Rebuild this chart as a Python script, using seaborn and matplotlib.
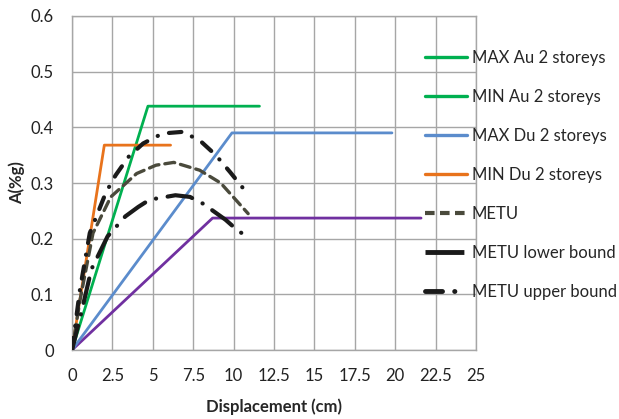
import matplotlib
matplotlib.use("Agg")
import matplotlib.pyplot as plt
import seaborn as sns
import numpy as np
import pandas as pd
from matplotlib.lines import Line2D

# ---- data ----
max_au_x = [0, 4.7, 11.6]
max_au_y = [0, 0.438, 0.438]
min_au_x = [0, 8.7, 21.6]
min_au_y = [0, 0.237, 0.237]
max_du_x = [0, 9.9, 19.8]
max_du_y = [0, 0.39, 0.39]
min_du_x = [0, 2.0, 6.1]
min_du_y = [0, 0.368, 0.368]
metu_x = [0, 0.5, 1.3, 2.4, 4.0, 5.2, 6.3, 7.9, 9.2, 10.9]
metu_y = [0, 0.09, 0.21, 0.275, 0.317, 0.332, 0.337, 0.323, 0.30, 0.245]
low_x = [0, 0.6, 1.2, 2.2, 3.3, 4.1, 4.8, 6.4, 7.3, 8.1, 9.5, 10.2, 11.0]
low_y = [0, 0.07, 0.145, 0.204, 0.24, 0.257, 0.27, 0.278, 0.275, 0.263, 0.234, 0.216, 0.2]
up_x = [0, 0.5, 1.1, 2.1, 2.7, 3.5, 4.4, 5.6, 6.9, 8.0, 8.9, 9.8, 10.8]
up_y = [0, 0.11, 0.21, 0.283, 0.314, 0.347, 0.371, 0.389, 0.392, 0.374, 0.35, 0.319, 0.283]

labels = ["MAX Au 2 storeys", "MIN Au 2 storeys", "MAX Du 2 storeys",
          "MIN Du 2 storeys", "METU", "METU lower bound", "METU upper bound"]
xticks = [0, 2.5, 5, 7.5, 10, 12.5, 15, 17.5, 20, 22.5, 25]
xtick_labels = ["0", "2.5", "5", "7.5", "10", "12.5", "15", "17.5", "20", "22.5", "25"]
yticks = [0, 0.1, 0.2, 0.3, 0.4, 0.5, 0.6]
ytick_labels = ["0", "0.1", "0.2", "0.3", "0.4", "0.5", "0.6"]

sns.set_style("white")
plt.rcParams['font.family'] = ['Lato', 'DejaVu Sans']

fig = plt.figure(figsize=(6.19, 4.19), dpi=100)
ax = fig.add_axes([72/619, 1-350/419, (476-72)/619, (350-16)/419])

green = "#00b050"
blue = "#5b8ccc"
orange = "#e8731c"
purple = "#7030a0"
olive = "#4a4a3c"
black = "#1a1a1a"

def draw(x, y, color, lw, dashes=None, z=3):
    df = pd.DataFrame({"x": x, "y": y})
    sns.lineplot(data=df, x="x", y="y", ax=ax, color=color, linewidth=lw,
                 sort=False, estimator=None, zorder=z)
    ln = ax.lines[-1]
    if dashes is not None:
        ln.set_linestyle((0, dashes))
        ln.set_dash_capstyle("round")
    return ln

draw(max_au_x, max_au_y, green, 2.0)
draw(min_au_x, min_au_y, purple, 2.0)
draw(max_du_x, max_du_y, blue, 2.0)
draw(min_du_x, min_du_y, orange, 2.0)
draw(metu_x, metu_y, olive, 2.4, dashes=(3.0, 1.8))
draw(low_x, low_y, black, 3.0, dashes=(6, 2.8, 0.05, 2.8))
draw(up_x, up_y, black, 3.0, dashes=(3.0, 2.8, 0.05, 2.8))

ax.set_xlim(0, 25)
ax.set_ylim(0, 0.6)
ax.set_xticks(xticks)
ax.set_xticklabels(xtick_labels)
ax.set_yticks(yticks)
ax.set_yticklabels(ytick_labels)
ax.tick_params(axis="both", length=0, labelsize=12, colors="#222222")
ax.tick_params(axis="x", pad=13)
ax.tick_params(axis="y", pad=13)
ax.grid(True, color="#a6a6a6", linewidth=1.0)
ax.set_axisbelow(True)
for s in ax.spines.values():
    s.set_color("#a6a6a6")
    s.set_linewidth(1.0)

ax.set_xlabel("Displacement (cm)", fontsize=12, fontweight="bold", labelpad=10)
ax.set_ylabel("A(%g)", fontsize=12, fontweight="bold", labelpad=4)

h_maxau = Line2D([], [], color=green, linewidth=2.4)
h_minau = Line2D([], [], color=green, linewidth=2.4)
h_maxdu = Line2D([], [], color=blue, linewidth=2.4)
h_mindu = Line2D([], [], color=orange, linewidth=2.4)
h_metu = Line2D([], [], color=olive, linewidth=3, linestyle=(0, (2.3, 1.3)))
h_low = Line2D([], [], color=black, linewidth=3.5, linestyle=(0, (8, 10)), solid_capstyle="round")
h_up = Line2D([], [], color=black, linewidth=3.5, linestyle=(0, (3.5, 2.5, 0.05, 10)), dash_capstyle="round")
handles = [h_maxau, h_minau, h_maxdu, h_mindu, h_metu, h_low, h_up]

leg = ax.legend(handles, labels, loc="upper left", bbox_to_anchor=(425/619, 1-50/419),
                bbox_transform=fig.transFigure, frameon=False, fontsize=12,
                handlelength=2.5, handletextpad=0.3, labelspacing=1.38,
                borderaxespad=0, borderpad=0)

fig.savefig("out.png", dpi=100, facecolor="white")
